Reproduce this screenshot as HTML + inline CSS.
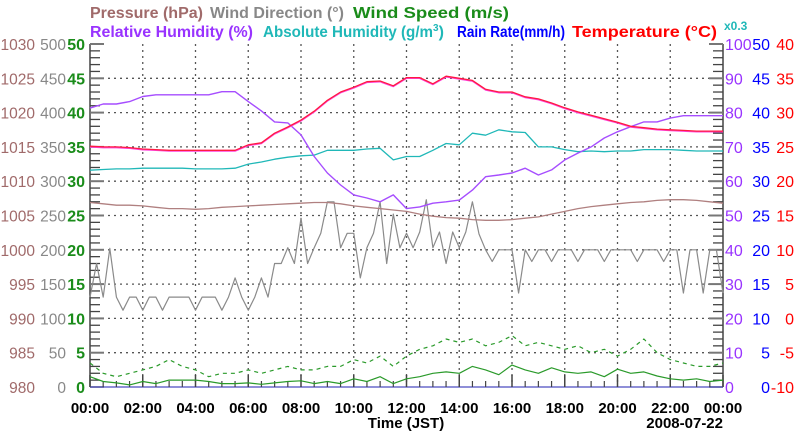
<!DOCTYPE html>
<html><head><meta charset="utf-8"><style>
html,body{margin:0;padding:0;background:#fff;}
svg{display:block;font-family:"Liberation Sans",sans-serif;}
</style></head><body>
<svg id="chart" width="800" height="434" viewBox="0 0 800 434" xmlns="http://www.w3.org/2000/svg">
<g font-size="16" font-weight="bold">
<text x="90" y="18" fill="#a06a6a" textLength="113" lengthAdjust="spacingAndGlyphs">Pressure (hPa)</text>
<text x="210" y="18" fill="#888888" textLength="134" lengthAdjust="spacingAndGlyphs">Wind Direction (°)</text>
<text x="353" y="18" fill="#1a8c1a" textLength="156" lengthAdjust="spacingAndGlyphs">Wind Speed (m/s)</text>
</g>
<g font-size="16" font-weight="bold">
<text x="90" y="37" fill="#9933ff" textLength="163" lengthAdjust="spacingAndGlyphs">Relative Humidity (%)</text>
<text x="263" y="37" fill="#20b8b8"><tspan textLength="170" lengthAdjust="spacingAndGlyphs">Absolute Humidity (g/m</tspan><tspan font-size="10" dy="-6">3</tspan><tspan dy="6">)</tspan></text>
<text x="457" y="37" fill="#0000ff" textLength="108" lengthAdjust="spacingAndGlyphs">Rain Rate(mm/h)</text>
<text x="572" y="37" fill="#ff0000" textLength="145" lengthAdjust="spacingAndGlyphs">Temperature (°C)</text>
<text x="724" y="30" fill="#20b8b8" font-size="12">x0.3</text>
</g>
<g id="grid"></g>
<g id="axes"></g>
<g id="series"></g>
<g id="labels"></g>
<text x="406" y="428" text-anchor="middle" font-size="15" font-weight="bold">Time (JST)</text>
<text x="723" y="428" text-anchor="end" font-size="15" font-weight="bold">2008-07-22</text>
</svg>
<script>
const xTickLabels = ["00:00","02:00","04:00","06:00","08:00","10:00","12:00","14:00","16:00","18:00","20:00","22:00","00:00"];
const pressureTicks = [980,985,990,995,1000,1005,1010,1015,1020,1025,1030];
const windDirTicks = [0,50,100,150,200,250,300,350,400,450,500];
const windSpeedTicks = [0,5,10,15,20,25,30,35,40,45,50];
const rhTicks = [0,10,20,30,40,50,60,70,80,90,100];
const rainTicks = [0,5,10,15,20,25,30,35,40,45,50];
const tempTicks = [-10,-5,0,5,10,15,20,25,30,35,40];
// half-hourly series (49 points, 00:00 .. 24:00)
const temperature = [25.1,25.0,25.0,24.9,24.7,24.6,24.5,24.5,24.5,24.5,24.5,24.5,25.3,25.6,27.0,27.9,28.9,30.2,31.8,33.0,33.7,34.5,34.6,33.9,35.1,35.1,34.2,35.3,35.0,34.7,33.4,33.0,33.0,32.3,32.0,31.4,30.7,30.1,29.6,29.1,28.6,28.0,27.8,27.6,27.5,27.4,27.3,27.3,27.3];
const relHumidity = [81.3,82.5,82.5,83.2,84.7,85.2,85.2,85.2,85.2,85.2,86.1,86.1,83.2,80.5,77.3,77.0,73.5,67.2,62.4,58.9,56.0,55.1,54.0,56.0,52.0,52.5,53.6,54.0,54.5,57.4,61.3,61.8,62.4,63.8,61.8,63.3,66.2,68.2,70.0,72.6,74.4,75.9,77.3,77.3,78.4,79.1,79.1,79.1,79.1];
const absHumidity = [31.6,31.7,31.8,31.8,31.9,31.9,31.9,31.9,31.8,31.8,31.8,31.9,32.5,32.8,33.2,33.5,33.7,33.8,34.5,34.5,34.5,34.7,34.8,33.1,33.6,33.6,34.5,35.5,35.3,37.0,36.7,37.5,37.2,37.1,35.0,35.0,34.6,34.3,34.4,34.3,34.4,34.4,34.6,34.6,34.6,34.5,34.4,34.4,34.4];
const pressure = [1006.9,1006.7,1006.5,1006.5,1006.4,1006.2,1006.0,1006.0,1005.9,1006.0,1006.2,1006.3,1006.4,1006.5,1006.6,1006.7,1006.8,1006.9,1006.9,1006.7,1006.4,1006.2,1006.0,1005.8,1005.6,1005.2,1004.9,1004.7,1004.6,1004.4,1004.3,1004.3,1004.4,1004.6,1004.8,1005.2,1005.6,1006.0,1006.3,1006.5,1006.7,1006.9,1007.0,1007.2,1007.3,1007.3,1007.2,1007.0,1006.8];
const windSpeed = [1.5,0.8,0.6,0.3,0.8,0.5,1.0,1.0,1.0,0.8,0.5,0.5,0.6,0.4,0.6,0.8,0.9,0.5,0.8,0.5,1.2,0.8,1.5,0.5,1.2,1.5,2.0,2.2,2.0,3.0,2.5,1.8,3.2,2.5,2.0,2.8,2.2,2.0,2.2,1.5,2.6,2.0,2.2,1.6,1.2,1.0,1.2,0.8,1.0];
const windGust = [3.5,2.0,1.5,2.0,2.5,3.0,4.0,3.0,2.5,1.5,2.0,2.0,2.5,2.0,2.5,3.0,2.5,2.5,3.0,3.0,4.0,3.5,4.5,3.0,4.5,5.5,6.0,7.0,6.5,7.0,6.0,6.5,7.5,6.0,6.5,6.0,5.5,6.0,5.0,5.5,4.5,5.5,7.0,5.0,4.0,3.5,3.0,3.0,3.5];
// quarter-hourly wind direction (97 points)
const windDir = [131,180,131,202,131,112,131,131,112,
131,131,112,131,131,131,131,112,
131,131,131,112,131,159,131,112,
131,159,131,180,180,203,180,246,
180,203,224,270,270,203,224,224,
159,203,224,270,180,252,203,224,
203,226,273,203,226,180,226,203,
226,270,223,200,183,200,200,200,
137,200,183,200,200,183,200,200,
200,183,200,200,200,183,200,200,
200,200,183,200,200,200,183,200,
200,137,200,200,137,200,200,137];

const X0=90,X1=723,Y0=387,Y1=44;
const NS="http://www.w3.org/2000/svg";
function xScale(h){return X0+(X1-X0)*h/24;}
function yLin(v,min,max){return Y0-(Y0-Y1)*(v-min)/(max-min);}
const yT=v=>yLin(v,-10,40), yRH=v=>yLin(v,0,100), yB=v=>yLin(v,0,50), yP=v=>yLin(v,980,1030), yWD=v=>yLin(v,0,500), yWS=v=>yLin(v,0,50);
function mk(tag,attrs,parent){const e=document.createElementNS(NS,tag);for(const k in attrs)e.setAttribute(k,attrs[k]);parent.appendChild(e);return e;}
const grid=document.getElementById('grid'),axes=document.getElementById('axes'),series=document.getElementById('series'),labels=document.getElementById('labels');

for(let i=1;i<12;i++){const x=xScale(i*2);
 const l=mk('line',{x1:x,x2:x,y1:Y1,y2:Y0,stroke:'#555','stroke-width':1.3,'stroke-dasharray':'2,4'},grid);
 
 }
for(let i=1;i<10;i++){const y=yWS(i*5);
 const l=mk('line',{x1:X0,x2:X1,y1:y,y2:y,stroke:'#555','stroke-width':1.3,'stroke-dasharray':'2,4'},grid);
 
 }

[[X0,'left-axis'],[X1,'right-axis']].forEach(([x,n])=>{
 const a=mk('line',{x1:x,x2:x,y1:Y1,y2:Y0,stroke:'#444','stroke-width':1.5},axes);
 
 
 for(let v=0;v<=50;v++){const y=yWS(v);const major=v%5===0;const len=major?14:10;
  const dx=x===X0?len:-len;
  mk('line',{x1:x,x2:x+dx,y1:y,y2:y,stroke:major?'#777':'#444','stroke-width':major?2:1.3},axes);}
});
const bax=mk('line',{x1:X0,x2:X1,y1:Y0,y2:Y0,stroke:'#6a6acc','stroke-width':1.5},axes);


for(let h=0;h<=48;h++){const x=xScale(h/2);const major=h%4===0;
 mk('line',{x1:x,x2:x,y1:Y0,y2:Y0-(major?12:6),stroke:'#444','stroke-width':major?1.5:1.2},axes);}

function txt(s,x,y,fill,anchor,bold,name,size){const t=mk('text',{x:x,y:y,fill:fill,'text-anchor':anchor,'font-size':size||16,'font-weight':bold?'bold':'normal'},labels);t.textContent=s;
 
 }
xTickLabels.forEach((s,i)=>txt(s,xScale(i*2),413,'#000','middle',true,'x-tick-label',15));
for(let i=0;i<11;i++){const y=yWS(windSpeedTicks[i])+6;
 txt(String(pressureTicks[i]),35,y,'#a06a6a','end',false,'pressure-tick-label',15.5);
 txt(String(windDirTicks[i]),66,y,'#888','end',false,'wind-direction-tick-label',15.5);
 txt(String(windSpeedTicks[i]),85,y,'#1a8c1a','end',true,'wind-speed-tick-label',16);
 txt(String(rhTicks[i]),725,y,'#9933ff','start',false,'rh-tick-label',16);
 txt(String(rainTicks[i]),770,y,'#0000ff','end',false,'rain-rate-tick-label',16);
 txt(String(tempTicks[i]),794,y,'#ff0000','end',false,'temperature-tick-label',16);}

function path(vals,step,ys,stroke,w,name,dash,dy){
 const d=vals.map((v,i)=>(i?'L':'M')+xScale(i*step).toFixed(1)+','+(ys(v)+(dy||0)).toFixed(1)).join('');
 const p=mk('path',{d:d,fill:'none',stroke:stroke,'stroke-width':w,'stroke-linejoin':'round'},series);
 if(dash)p.setAttribute('stroke-dasharray',dash);
 
 }
path(windDir,0.25,yWD,'#8a8a8a',1.2,'wind-direction-line');
path(pressure,0.5,yP,'#b08080',1.3,'pressure-line');
path(windGust,0.5,yWS,'#2a9a2a',1.2,'wind-gust-line','4,4');
path(windSpeed,0.5,yWS,'#2a9a2a',1.2,'wind-speed-line');
path(absHumidity,0.5,yB,'#20b8b8',1.3,'absolute-humidity-line');
path(relHumidity,0.5,yRH,'#a64dff',1.4,'relative-humidity-line');
path(temperature,0.5,yT,'#ff44dd',1.3,'temperature-shadow-line',null,0.8);
path(temperature,0.5,yT,'#ff1a40',1.3,'temperature-line');
</script>
</body></html>
